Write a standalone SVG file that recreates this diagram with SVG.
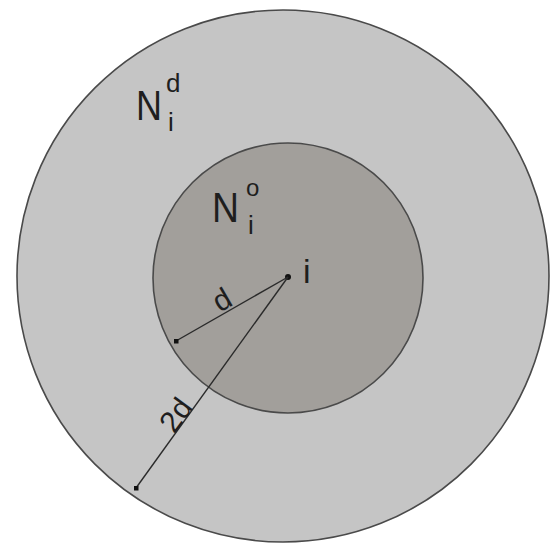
<svg xmlns="http://www.w3.org/2000/svg" width="550" height="545" viewBox="0 0 550 545">
<defs>
<marker id="dot" viewBox="0 0 6 6" refX="3" refY="3" markerWidth="5" markerHeight="5" markerUnits="userSpaceOnUse"><rect x="0" y="0" width="6" height="6" fill="#111"/></marker>
<style>
.ring{stroke:#4a4a4a;stroke-width:1.6}
.lbl{font-family:"Liberation Sans",Arial,sans-serif;fill:#1e1e1e}
.conn{stroke:#2a2a2a;stroke-width:1.4;fill:none}
</style>
</defs>
<rect width="550" height="545" fill="#ffffff"/>
<g id="outer">
<circle class="ring" cx="283" cy="276" r="266" fill="#c5c5c5"/>
<text class="lbl" x="136" y="120" font-size="42" textLength="26" lengthAdjust="spacingAndGlyphs">N</text>
<text class="lbl" x="166" y="92" font-size="26">d</text>
<text class="lbl" x="168" y="131" font-size="26">i</text>
</g>
<g id="inner">
<circle class="ring" cx="288" cy="278" r="135" fill="#a29f9b"/>
<text class="lbl" x="212" y="222" font-size="42" textLength="27" lengthAdjust="spacingAndGlyphs">N</text>
<text class="lbl" x="246" y="196" font-size="24">o</text>
<text class="lbl" x="248" y="234" font-size="26">i</text>
</g>
<g id="node-i">
<circle cx="288" cy="277" r="3" fill="#111"/>
<text class="lbl" x="303" y="283" font-size="34">i</text>
</g>
<g id="connectors">
<line class="conn" x1="288" y1="277" x2="176" y2="341" marker-end="url(#dot)"/>
<line class="conn" x1="288" y1="277" x2="136" y2="488" marker-end="url(#dot)"/>
<text class="lbl" x="222" y="310" font-size="30" text-anchor="middle" transform="rotate(-30 222 300)">d</text>
<text class="lbl" x="176" y="425" font-size="30" text-anchor="middle" transform="rotate(-54 176 415)">2d</text>
</g>
</svg>
